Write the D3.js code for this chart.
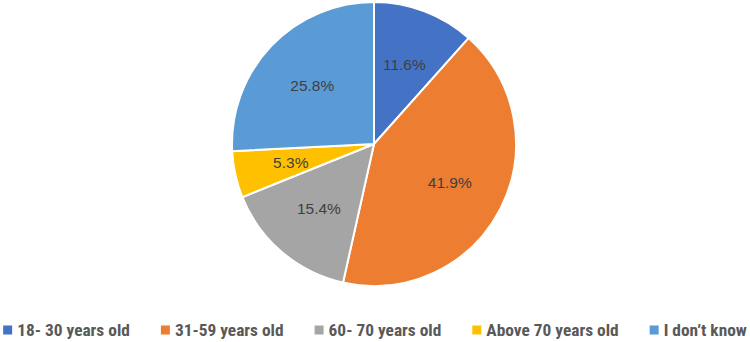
<!DOCTYPE html>
<html>
<head>
<meta charset="utf-8">
<script src="https://cdn.jsdelivr.net/npm/d3@7"></script>
<style>
  body { margin: 0; background: #fff; }
  svg { display: block; }
</style>
</head>
<body>
<div id="chart"></div>
<script>
var categories = ["18- 30 years old", "31-59 years old", "60- 70 years old", "Above 70 years old", "I don\u2019t know"]
var values = [11.6, 41.9, 15.4, 5.3, 25.8]
var colors = ["#4472C4", "#ED7D31", "#A5A5A5", "#FFC000", "#5B9BD5"]

var width = 750,
    height = 342

var cx = 374, cy = 144, radius = 142

var svg = d3.select("#chart")
  .append("svg")
  .attr("width", width)
  .attr("height", height)

var data = categories.map(function(c, i){
  return {name: c, value: values[i], color: colors[i]}
})

var pie = d3.pie()
  .sort(null)
  .value(function(d){return d.value})

var arc = d3.arc()
  .innerRadius(0)
  .outerRadius(radius)

var labelArc = d3.arc()
  .innerRadius(radius * 0.6)
  .outerRadius(radius * 0.6)

var g = svg.append("g")
  .attr("transform", "translate(" + cx + "," + cy + ")")

var arcs = pie(data)

g.selectAll(".slice")
  .data(arcs)
  .enter()
  .append("path")
  .attr("class", "slice")
  .attr("d", arc)
  .attr("fill", function(d){return d.data.color})
  .attr("stroke", "#fff")
  .attr("stroke-width", 2)

g.selectAll(".label")
  .data(arcs)
  .enter()
  .append("text")
  .attr("class", "label")
  .attr("transform", function(d){return "translate(" + labelArc.centroid(d) + ")"})
  .attr("text-anchor", "middle")
  .attr("dy", "0.35em")
  .attr("font-family", "Liberation Sans, Arial, sans-serif")
  .attr("font-size", 15.5)
  .attr("fill", "#404040")
  .text(function(d){return d.data.value.toFixed(1) + "%"})

// LEGEND
var legendY = 330,
    box = 9,
    boxGap = 5,
    itemGap = 31,
    target = 744

var legend = svg.append("g")

var items = legend.selectAll(".item")
  .data(data)
  .enter()
  .append("g")
  .attr("class", "item")

items.append("rect")
  .attr("width", box)
  .attr("height", box)
  .attr("y", legendY - box / 2)
  .attr("fill", function(d){return d.color})

var texts = items.append("text")
  .attr("x", box + boxGap)
  .attr("y", legendY)
  .attr("dy", "0.35em")
  .attr("font-family", "Liberation Sans Narrow, Arial Narrow, Roboto Condensed, sans-serif")
  .attr("font-weight", "bold")
  .attr("font-size", 16)
  .attr("fill", "#595959")
  .text(function(d){return d.name})

// fit legend to the row width
var widths = texts.nodes().map(function(n){return n.getComputedTextLength()})
var textTotal = d3.sum(widths)
var fixed = data.length * (box + boxGap) + (data.length - 1) * itemGap
var fs = 16 * Math.min(1.3, (target - fixed) / textTotal)
texts.attr("font-size", fs)
widths = texts.nodes().map(function(n){return n.getComputedTextLength()})

var total = d3.sum(widths) + fixed
var xpos = (width - total) / 2
items.attr("transform", function(d, i){
  var t = "translate(" + xpos + ",0)"
  xpos += box + boxGap + widths[i] + itemGap
  return t
})
</script>
</body>
</html>
